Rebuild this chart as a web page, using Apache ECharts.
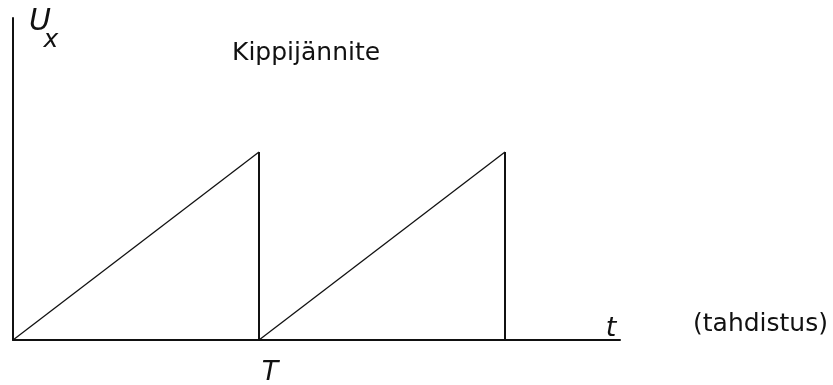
<!DOCTYPE html>
<html>
<head>
<meta charset="utf-8">
<script src="https://cdn.jsdelivr.net/npm/echarts@6/dist/echarts.min.js"></script>
<style>
html,body{margin:0;padding:0;background:#fff;}
#chart{width:833px;height:385px;}
</style>
</head>
<body>
<div id="chart"></div>
<script>
// Sawtooth (Kippijännite) data: time in units of T, voltage relative to peak
const rampSegments = [
  [[0, 0], [1, 1]],
  [[1, 0], [2, 1]]
];
const dropSegments = [
  [[1, 1], [1, 0]],
  [[2, 1], [2, 0]]
];
const xMax = 2.4675;
const yMax = 1.7128;
const titleText = 'Kippijännite';
const xAxisName = 't';
const periodLabel = 'T';
const syncLabel = '(tahdistus)';
const yAxisMain = 'U';
const yAxisSub = 'x';

const chart = echarts.init(document.getElementById('chart'), null, {renderer: 'canvas'});
const lineColor = '#111';
const series = [];
rampSegments.forEach(seg => series.push({
  type: 'line', data: seg, symbol: 'none', silent: true,
  lineStyle: {color: lineColor, width: 1.3}
}));
dropSegments.forEach(seg => series.push({
  type: 'line', data: seg, symbol: 'none', silent: true,
  lineStyle: {color: lineColor, width: 2}
}));

const txt = (x, y, text, size, italic, align) => ({
  type: 'text', x: x, y: y, silent: true,
  style: {
    text: text, fill: '#111',
    font: (italic ? 'italic ' : '') + size + 'px "DejaVu Sans"',
    align: align || 'center', verticalAlign: 'middle'
  }
});

chart.setOption({
  animation: false,
  backgroundColor: '#fff',
  grid: {left: 13, top: 18, right: 213, bottom: 45, containLabel: false},
  xAxis: {
    type: 'value', min: 0, max: xMax,
    axisLine: {show: true, onZero: true, lineStyle: {color: lineColor, width: 2}},
    axisTick: {show: false}, axisLabel: {show: false}, splitLine: {show: false}
  },
  yAxis: {
    type: 'value', min: 0, max: yMax,
    axisLine: {show: true, lineStyle: {color: lineColor, width: 2}},
    axisTick: {show: false}, axisLabel: {show: false}, splitLine: {show: false}
  },
  series: series,
  graphic: [
    txt(232, 53, titleText, 25, false, 'left'),
    txt(693, 324, syncLabel, 25, false, 'left'),
    txt(270, 373, periodLabel, 27, true),
    txt(611, 329, xAxisName, 27, true),
    txt(40, 22, yAxisMain, 30, true),
    txt(51, 40, yAxisSub, 25, true)
  ]
});
</script>
</body>
</html>
